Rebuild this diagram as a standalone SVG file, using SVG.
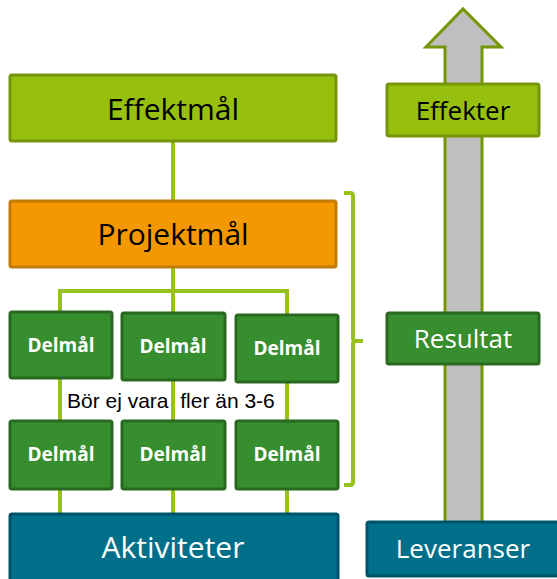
<svg xmlns="http://www.w3.org/2000/svg" width="557" height="579" viewBox="0 0 557 579">
<style>
.lg{fill:#97BF0D;stroke:#76960A;stroke-width:3}
.or{fill:#F39800;stroke:#C27A08;stroke-width:3}
.dg{fill:#378E2F;stroke:#29691F;stroke-width:3}
.tl{fill:#00708A;stroke:#00536A;stroke-width:3}
.con{stroke:#97C11B;stroke-width:4;fill:none}
.big{font-family:"Open Sans","Noto Sans",sans-serif;text-anchor:middle}
.dm{font-family:"Open Sans","Noto Sans",sans-serif;font-weight:bold;font-size:19px;fill:#fff;text-anchor:middle}
</style>
<g id="arrow">
<path d="M445,521 V47 H426 L463,9 L501,47 H482 V521" fill="#BFBFBF" stroke="#76960A" stroke-width="3" stroke-linejoin="miter"/>
</g>
<g id="connectors">
<line class="con" x1="173" y1="142" x2="173" y2="200"/>
<polyline class="con" points="60,312 60,291 287,291 287,314"/>
<line class="con" x1="173" y1="268" x2="173" y2="312"/>
<line class="con" x1="60" y1="378" x2="60" y2="420"/>
<line class="con" x1="173" y1="380" x2="173" y2="420"/>
<line class="con" x1="287" y1="382" x2="287" y2="420"/>
<line class="con" x1="60" y1="489" x2="60" y2="513"/>
<line class="con" x1="173" y1="489" x2="173" y2="513"/>
<line class="con" x1="287" y1="489" x2="287" y2="513"/>
<path class="con" d="M344,193 H350 Q353,193 353,196 V338 Q353,341 356,341 H363 M356,341 Q353,341 353,344 V482 Q353,485 350,485 H344" stroke-width="3.5"/>
</g>
<g id="effektmal">
<rect class="lg" x="10" y="75" width="326" height="66" rx="2"/>
<text class="big" x="173" y="120" font-size="30" fill="#000">Effektmål</text>
</g>
<g id="projektmal">
<rect class="or" x="10" y="201" width="326" height="66" rx="2"/>
<text class="big" x="173" y="245" font-size="30" fill="#000">Projektmål</text>
</g>
<g id="delmal1">
<rect class="dg" x="10" y="312" width="102" height="66" rx="2"/>
<text class="dm" x="61" y="352">Delmål</text>
</g>
<g id="delmal2">
<rect class="dg" x="122" y="313" width="103" height="67" rx="2"/>
<text class="dm" x="173" y="353">Delmål</text>
</g>
<g id="delmal3">
<rect class="dg" x="236" y="315" width="102" height="67" rx="2"/>
<text class="dm" x="287" y="355">Delmål</text>
</g>
<g id="note">
<text x="67" y="408" font-family="Liberation Sans, Arial, sans-serif" font-size="21" fill="#000" xml:space="preserve">Bör ej vara  fler än 3-6</text>
</g>
<g id="delmal4">
<rect class="dg" x="10" y="421" width="102" height="68" rx="2"/>
<text class="dm" x="61" y="461">Delmål</text>
</g>
<g id="delmal5">
<rect class="dg" x="122" y="421" width="103" height="68" rx="2"/>
<text class="dm" x="173" y="461">Delmål</text>
</g>
<g id="delmal6">
<rect class="dg" x="236" y="421" width="102" height="68" rx="2"/>
<text class="dm" x="287" y="461">Delmål</text>
</g>
<g id="aktiviteter">
<rect class="tl" x="10" y="514" width="328" height="75" rx="2"/>
<text class="big" x="173" y="558" font-size="30" fill="#fff">Aktiviteter</text>
</g>
<g id="effekter">
<rect class="lg" x="387" y="84" width="152" height="52" rx="2"/>
<text class="big" x="463" y="120" font-size="26" fill="#000">Effekter</text>
</g>
<g id="resultat">
<rect class="dg" x="387" y="313" width="152" height="51" rx="2"/>
<text class="big" x="463" y="348" font-size="26" fill="#fff">Resultat</text>
</g>
<g id="leveranser">
<rect class="tl" x="367" y="522" width="200" height="54" rx="2"/>
<text class="big" x="463" y="558" font-size="26" fill="#fff">Leveranser</text>
</g>
</svg>
